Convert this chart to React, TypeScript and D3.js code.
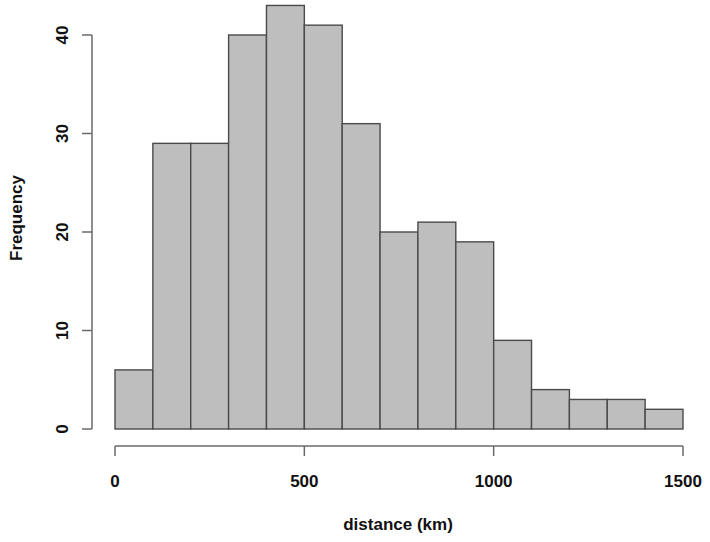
import React, { useEffect, useRef } from 'react';
import * as d3 from 'd3';

// histogram of distances, bins of 100 km
const binStarts = [0, 100, 200, 300, 400, 500, 600, 700, 800, 900, 1000, 1100, 1200, 1300, 1400];
const counts = [6, 29, 29, 40, 43, 41, 31, 20, 21, 19, 9, 4, 3, 3, 2];
const xTicks = [0, 500, 1000, 1500];
const yTicks = [0, 10, 20, 30, 40];
const binWidth = 100;

const App = () => {
  const ref = useRef<SVGSVGElement | null>(null);

  useEffect(() => {
    if (!ref.current) return;
    const svg = d3.select(ref.current);
    svg.selectAll('*').remove();

    const x = d3.scaleLinear().domain([0, 1500]).range([115, 683]);
    const y = d3.scaleLinear().domain([0, 40]).range([429, 35]);
    const font = 'Liberation Sans, Arial, sans-serif';
    const axisCol = '#6a6a6a';

    svg.append('g')
      .selectAll('rect')
      .data(binStarts.map((b, i) => ({ b, c: counts[i] })))
      .enter().append('rect')
      .attr('x', d => x(d.b))
      .attr('y', d => y(d.c))
      .attr('width', d => x(d.b + binWidth) - x(d.b))
      .attr('height', d => y(0) - y(d.c))
      .attr('fill', '#bebebe')
      .attr('stroke', '#4a4a4a')
      .attr('stroke-width', 1.4);

    // x axis
    const xa = svg.append('g').attr('transform', 'translate(0,446)');
    xa.append('line')
      .attr('x1', x(0)).attr('x2', x(1500))
      .attr('stroke', axisCol).attr('stroke-width', 1.5);
    xa.selectAll('.xt').data(xTicks).enter().append('line')
      .attr('x1', d => x(d)).attr('x2', d => x(d))
      .attr('y1', 0).attr('y2', 10)
      .attr('stroke', axisCol).attr('stroke-width', 1.5);
    xa.selectAll('.xl').data(xTicks).enter().append('text')
      .attr('x', d => x(d)).attr('y', 41)
      .attr('text-anchor', 'middle')
      .attr('font-family', font).attr('font-size', 17).attr('font-weight', 'bold')
      .attr('fill', '#111')
      .text(d => d);

    // y axis
    const ya = svg.append('g').attr('transform', 'translate(92,0)');
    ya.append('line')
      .attr('y1', y(0)).attr('y2', y(40))
      .attr('stroke', axisCol).attr('stroke-width', 1.5);
    ya.selectAll('.yt').data(yTicks).enter().append('line')
      .attr('y1', d => y(d)).attr('y2', d => y(d))
      .attr('x1', 0).attr('x2', -10)
      .attr('stroke', axisCol).attr('stroke-width', 1.5);
    ya.selectAll('.yl').data(yTicks).enter().append('text')
      .attr('transform', d => `translate(-24,${y(d)}) rotate(-90)`)
      .attr('text-anchor', 'middle')
      .attr('font-family', font).attr('font-size', 17).attr('font-weight', 'bold')
      .attr('fill', '#111')
      .text(d => d);

    svg.append('text')
      .attr('x', 398).attr('y', 530)
      .attr('text-anchor', 'middle')
      .attr('font-family', font).attr('font-size', 17).attr('font-weight', 'bold')
      .attr('fill', '#111')
      .text('distance (km)');

    svg.append('text')
      .attr('transform', 'translate(22,218) rotate(-90)')
      .attr('text-anchor', 'middle')
      .attr('font-family', font).attr('font-size', 17).attr('font-weight', 'bold')
      .attr('fill', '#111')
      .text('Frequency');
  }, []);

  return (
    <svg ref={ref} width={710} height={542}
      style={{ position: 'absolute', left: 0, top: 0, background: '#fff' }} />
  );
};

export default App;
